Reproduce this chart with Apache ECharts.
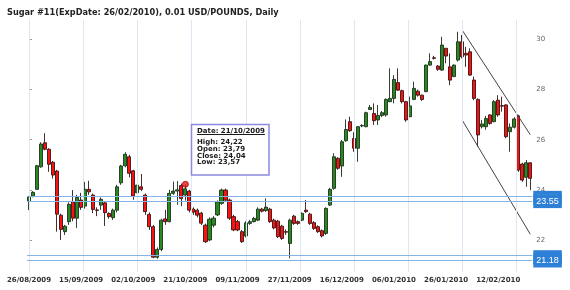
<!DOCTYPE html>
<html><head><meta charset="utf-8">
<script src="https://cdn.jsdelivr.net/npm/echarts@6/dist/echarts.min.js"></script>
<style>html,body{margin:0;padding:0;background:#fff}#c{width:570px;height:290px}</style>
</head><body><div id="c"></div>
<script>
const titleText = 'Sugar #11(ExpDate: 26/02/2010), 0.01 USD/POUNDS, Daily';
const categories = [
'26/08/2009','27/08/2009','28/08/2009','31/08/2009','01/09/2009','02/09/2009','03/09/2009','04/09/2009',
'08/09/2009','09/09/2009','10/09/2009','11/09/2009','14/09/2009','15/09/2009','16/09/2009','17/09/2009',
'18/09/2009','21/09/2009','22/09/2009','23/09/2009','24/09/2009','25/09/2009','28/09/2009','29/09/2009',
'30/09/2009','01/10/2009','02/10/2009','05/10/2009','06/10/2009','07/10/2009','08/10/2009','09/10/2009',
'12/10/2009','13/10/2009','14/10/2009','15/10/2009','16/10/2009','19/10/2009','20/10/2009','21/10/2009',
'22/10/2009','23/10/2009','26/10/2009','27/10/2009','28/10/2009','29/10/2009','30/10/2009','02/11/2009',
'03/11/2009','04/11/2009','05/11/2009','06/11/2009','09/11/2009','10/11/2009','11/11/2009','12/11/2009',
'13/11/2009','16/11/2009','17/11/2009','18/11/2009','19/11/2009','20/11/2009','23/11/2009','24/11/2009',
'25/11/2009','27/11/2009','30/11/2009','01/12/2009','02/12/2009','03/12/2009','04/12/2009','07/12/2009',
'08/12/2009','09/12/2009','10/12/2009','11/12/2009','14/12/2009','15/12/2009','16/12/2009','17/12/2009',
'18/12/2009','21/12/2009','22/12/2009','23/12/2009','24/12/2009','28/12/2009','29/12/2009','30/12/2009',
'31/12/2009','04/01/2010','05/01/2010','06/01/2010','07/01/2010','08/01/2010','11/01/2010','12/01/2010',
'13/01/2010','14/01/2010','15/01/2010','19/01/2010','20/01/2010','21/01/2010','22/01/2010','25/01/2010',
'26/01/2010','27/01/2010','28/01/2010','29/01/2010','01/02/2010','02/02/2010','03/02/2010','04/02/2010',
'05/02/2010','08/02/2010','09/02/2010','10/02/2010','11/02/2010','12/02/2010','16/02/2010','17/02/2010',
'18/02/2010','19/02/2010','22/02/2010','23/02/2010','24/02/2010','25/02/2010'];

const openV = [
23.55,23.74,24.02,24.92,25.88,25.62,25.10,24.75,22.99,22.33,22.73,23.53,22.87,23.59,23.35,24.02,
23.79,23.20,23.39,23.48,23.06,22.89,23.19,24.28,24.96,25.32,24.76,23.88,24.12,23.79,23.02,22.53,
21.31,21.62,22.84,22.73,23.86,23.95,24.17,23.79,23.95,23.23,23.19,23.07,22.59,22.00,22.59,23.00,
23.46,23.99,23.59,22.93,22.73,22.33,22.16,22.66,22.73,22.79,23.23,23.17,23.23,22.79,22.75,22.55,
22.33,21.86,22.95,22.73,22.79,23.19,23.03,22.69,22.53,22.37,22.26,23.39,24.06,25.26,24.95,25.96,
26.72,26.05,25.66,26.55,26.52,27.21,27.05,26.79,26.97,26.99,27.52,27.65,28.28,27.96,27.52,26.92,
27.61,27.94,27.78,27.92,28.98,29.27,28.94,28.78,29.65,28.91,28.52,29.18,29.91,29.45,29.51,28.38,
27.61,26.52,26.52,26.99,26.72,27.58,27.36,27.39,26.32,26.50,26.95,25.03,24.50,25.08];
const closeV = [
23.71,23.90,24.96,25.83,25.62,25.02,24.59,23.03,22.42,22.55,23.42,22.87,23.70,23.30,24.02,23.92,
23.22,23.18,23.62,23.09,22.93,23.19,24.12,24.95,25.42,24.66,23.75,24.19,24.02,23.13,22.53,21.31,
21.62,22.79,22.73,23.86,23.95,24.00,23.65,24.04,23.19,23.11,22.99,22.67,21.93,22.83,22.87,23.52,
23.99,23.59,22.87,22.40,22.40,21.93,22.68,22.73,22.86,23.23,23.15,23.31,22.73,22.48,22.13,22.06,
22.31,22.79,22.66,22.66,23.06,23.13,22.66,22.46,22.33,22.16,23.26,24.02,25.32,24.86,25.92,26.41,
26.36,25.66,26.52,26.57,27.08,27.29,26.76,26.97,27.08,27.61,27.65,28.41,27.98,27.52,26.79,27.35,
28.05,27.78,27.61,28.98,29.12,29.25,28.81,29.78,29.34,28.38,28.98,29.91,29.31,29.38,28.58,27.65,
26.19,26.63,26.85,26.65,27.52,26.99,27.34,26.12,26.50,26.83,24.79,24.39,25.08,24.46];
const lowV = [
23.19,23.70,24.00,24.88,25.58,24.72,24.45,22.33,22.00,22.20,22.60,22.75,22.48,23.20,23.25,23.80,
23.07,22.95,23.20,22.56,22.85,22.80,23.10,24.20,24.90,24.50,23.60,23.80,23.95,23.00,22.40,21.27,
21.25,21.55,22.60,22.70,23.80,23.40,23.35,23.57,23.10,23.00,22.90,22.60,21.88,21.95,22.50,22.95,
23.40,23.55,22.80,22.35,22.35,21.88,22.10,22.60,22.70,22.75,23.10,23.12,22.68,22.42,22.08,22.00,
22.20,21.27,22.60,22.60,22.75,23.08,22.60,22.40,22.28,22.10,22.20,23.35,24.00,24.80,24.52,25.92,
26.32,25.52,25.12,26.50,26.50,27.19,26.59,26.59,26.90,26.92,27.50,27.45,27.95,27.45,26.72,26.90,
27.58,27.72,27.55,27.90,28.95,29.20,28.75,28.75,29.05,28.18,28.50,29.12,29.25,28.91,28.55,27.58,
25.72,26.45,26.40,26.60,26.70,26.92,27.12,26.06,25.52,26.45,24.72,24.32,24.12,23.99];
const highV = [
23.76,23.95,25.00,25.90,26.26,25.66,25.15,24.80,23.05,22.60,23.50,23.99,23.80,23.88,24.32,24.36,
23.85,23.30,23.70,23.55,23.10,23.25,24.20,25.00,25.50,25.40,24.80,24.55,24.63,23.85,23.10,22.60,
21.70,22.85,23.20,24.00,24.33,24.35,24.25,24.22,24.00,23.30,23.25,23.12,22.65,22.90,22.95,23.58,
24.05,24.05,23.65,23.00,22.80,22.40,22.75,22.80,22.92,23.30,23.28,23.66,23.28,22.85,22.80,22.60,
22.42,22.85,23.00,22.78,23.10,23.59,23.08,22.75,22.58,22.42,23.30,24.08,25.46,25.30,25.99,26.81,
26.92,26.30,26.55,26.62,27.12,27.39,27.45,27.39,27.15,27.65,28.85,28.58,28.85,28.00,27.55,27.72,
28.32,28.00,27.80,29.00,29.45,29.35,28.98,30.11,29.65,29.45,29.00,30.31,30.18,29.71,29.65,28.52,
27.65,26.79,26.95,27.02,27.58,27.78,27.72,27.42,26.65,26.90,27.00,25.08,25.19,25.10];

const yTicks = [22, 24, 26, 28, 30];
const levelValues = [23.76, 23.55, 21.39, 21.18];
const gridPositions = [0, 13.52, 27.03, 40.55, 54.06, 67.58, 81.1, 94.6, 108.1, 121.6];
const trendUpper = [[108, 30.38], [125, 26.20]];
const trendLower = [[108, 26.79], [125, 22.23]];
const tipIndex = 39;

const candleData = categories.map((c, i) => [openV[i], closeV[i], lowV[i], highV[i]]);
const fmt = v => v.toFixed(2).replace('.', ',');

const chart = echarts.init(document.getElementById('c'), null, {renderer: 'canvas'});

const tipFont = 'bold 7px "DejaVu Sans"';
const dateText = 'Date: ' + categories[tipIndex];
const ctx = document.createElement('canvas').getContext('2d');
ctx.font = tipFont;
const dateW = ctx.measureText(dateText).width;
const tipX = 197;
const tipLines = [
  'High: ' + fmt(highV[tipIndex]),
  'Open: ' + fmt(openV[tipIndex]),
  'Close: ' + fmt(closeV[tipIndex]),
  'Low: ' + fmt(lowV[tipIndex])
];
const tipYs = [142.5, 149.2, 155.9, 162.6];

const levelLabel = {
  show: true, position: 'end', distance: 1,
  formatter: p => p.value.toFixed(2),
  backgroundColor: '#2e7fd6', color: '#fff', fontSize: 9,
  fontFamily: 'Liberation Sans', padding: [3, 3, 2, 3]
};

const option = {
  animation: false,
  backgroundColor: '#ffffff',
  title: {
    text: titleText, left: 7, top: 9, padding: 0,
    textStyle: {fontSize: 8.2, fontWeight: 'bold', fontFamily: 'DejaVu Sans', color: '#222'}
  },
  grid: {left: 27, right: 37.7, top: 20, bottom: 18, containLabel: false},
  xAxis: [{
    type: 'category', data: categories, boundaryGap: true,
    axisLine: {show: false}, axisTick: {show: false}, splitLine: {show: false},
    axisLabel: {interval: 12, hideOverlap: false, fontSize: 7, fontWeight: 'bold',
      fontFamily: 'DejaVu Sans', color: '#333', margin: 5}
  }, {
    type: 'value', min: -0.5, max: categories.length - 0.5, show: false
  }],
  yAxis: {
    type: 'value', position: 'right', min: 20.72, max: 30.78,
    axisLine: {show: true, lineStyle: {color: '#cddbea', width: 1}},
    axisTick: {show: true, length: 3, lineStyle: {color: '#999'}, customValues: yTicks},
    axisLabel: {customValues: yTicks, color: '#666', fontSize: 7, fontFamily: 'DejaVu Sans', margin: 4},
    splitLine: {show: false}
  },
  series: [
    {
      type: 'line', xAxisIndex: 1, yAxisIndex: 0, z: 0, symbol: 'none', silent: true,
      data: [[0, 25]], lineStyle: {opacity: 0},
      markLine: {
        silent: true, symbol: ['none', 'none'], label: {show: false},
        lineStyle: {color: '#dde8f4', type: 'solid', width: 1},
        data: gridPositions.map(v => ({xAxis: v}))
      }
    },
    {
      type: 'line', xAxisIndex: 0, yAxisIndex: 0, z: 1, symbol: 'none', silent: true,
      data: [[0, 25]], lineStyle: {opacity: 0},
      markLine: {
        silent: true, symbol: ['none', 'none'],
        lineStyle: {color: '#84b3e4', type: 'solid', width: 1},
        label: levelLabel,
        data: levelValues.map((v, k) => ({yAxis: v, label: {offset: [0, k % 2 === 0 ? 2 : 0]}}))
      }
    },
    {
      type: 'candlestick', xAxisIndex: 0, yAxisIndex: 0, z: 3,
      data: candleData, barWidth: 3.6,
      itemStyle: {color: '#268a1e', color0: '#ff1010', borderColor: '#1f2f1f',
        borderColor0: '#331515', borderWidth: 0.9}
    },
    {
      type: 'line', z: 4, data: trendUpper, symbol: 'none', silent: true,
      lineStyle: {color: '#444', width: 1}
    },
    {
      type: 'line', z: 4, data: trendLower, symbol: 'none', silent: true,
      lineStyle: {color: '#444', width: 1}
    },
    {
      type: 'scatter', z: 5, data: [[tipIndex, highV[tipIndex]]], symbolSize: 6, silent: true,
      itemStyle: {color: '#e81818', borderColor: '#a00', borderWidth: 1}
    }
  ],
  graphic: [
    {type: 'rect', z: 100, shape: {x: 191.5, y: 124.5, width: 77.5, height: 50.5},
      style: {fill: '#fff', stroke: '#8b8be0', lineWidth: 1.5}},
    {type: 'text', z: 101, style: {x: tipX, y: 131, text: dateText, font: tipFont, fill: '#1a1a1a',
      verticalAlign: 'middle', align: 'left'}},
    {type: 'line', z: 101, shape: {x1: tipX, y1: 134.5, x2: tipX + dateW, y2: 134.5},
      style: {stroke: '#1a1a1a', lineWidth: 1}}
  ].concat(tipLines.map((t, k) => ({
    type: 'text', z: 101, style: {x: tipX, y: tipYs[k], text: t, font: tipFont, fill: '#1a1a1a',
      verticalAlign: 'middle', align: 'left'}
  })))
};
chart.setOption(option);
</script></body></html>
